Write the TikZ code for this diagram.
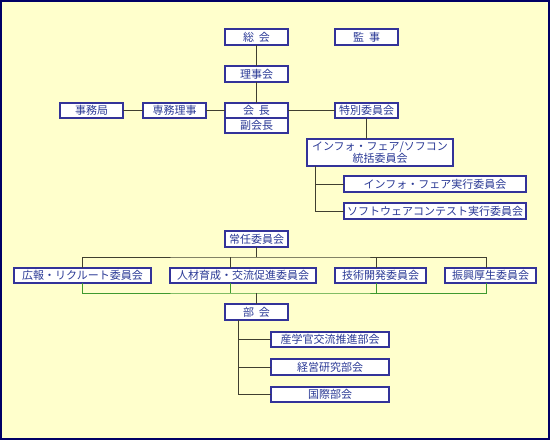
\documentclass[tikz,border=0pt]{standalone}
\usepackage{fontspec}
\setmainfont{Noto Sans CJK JP}
\usetikzlibrary{positioning}
\definecolor{paper}{HTML}{FFFFCC}
\definecolor{framecol}{HTML}{000066}
\definecolor{boxline}{HTML}{333399}
\definecolor{boxtext}{HTML}{2B3A96}
\definecolor{wire}{HTML}{403F30}
\definecolor{greenwire}{HTML}{3F9A2E}
\newcommand{\gap}{\hspace{5bp}}

\begin{document}
\begin{tikzpicture}[x=1bp, y=-1bp,
    orgbox/.style    = {draw=boxline, line width=1.5bp, fill=white, text=boxtext,
                        font=\fontsize{11bp}{12bp}\selectfont, inner sep=0pt, outer sep=0pt,
                        minimum width=63bp, minimum height=16bp, align=center},
    link/.style      = {draw=wire, line width=0.8bp},
    greenlink/.style = {draw=greenwire, line width=0.8bp},
  ]
  \useasboundingbox (0,0) rectangle (550,440);
  \draw[draw=framecol, line width=2bp, fill=paper] (1,1) rectangle (549,439);

  \node[orgbox] (sokai) at (256.5,37) {総\gap 会};
  \node[orgbox] (kansa) at (366.5,37) {監\gap 事};
  \node[orgbox] (rijikai) at (256.5,74) {理事会};
  \node[orgbox, minimum height=15bp] (kaicho) at (256.5,110.5) {会\gap 長};
  \node[orgbox, minimum height=15bp, below=0pt of kaicho] (fukukaicho) {副会長};
  \node[orgbox, minimum height=15bp] (senmu) at (174.5,110.5) {専務理事};
  \node[orgbox, minimum height=15bp] (jimukyoku) at (91.5,110.5) {事務局};
  \node[orgbox, minimum height=15bp] (tokubetsu) at (366.5,110.5) {特別委員会};
  \node[orgbox, minimum width=146bp, minimum height=27bp] (toukatsu) at (380,152.5)
       {インフォ・フェア/ソフコン\\統括委員会};
  \node[orgbox, minimum width=182bp] (infofair) at (435,184) {インフォ・フェア実行委員会};
  \node[orgbox, minimum width=182bp] (softcon) at (435,211) {ソフトウェアコンテスト実行委員会};

  \node[orgbox] (jonin) at (256.5,239) {常任委員会};
  \node[orgbox, minimum width=137bp, minimum height=15bp] (koho) at (82.5,275.5) {広報・リクルート委員会};
  \node[orgbox, minimum width=146bp, minimum height=15bp] (jinzai) at (243,275.5) {人材育成・交流促進委員会};
  \node[orgbox, minimum width=91bp, minimum height=15bp] (gijutsu) at (380.5,275.5) {技術開発委員会};
  \node[orgbox, minimum width=91bp, minimum height=15bp] (shinko) at (490.5,275.5) {振興厚生委員会};
  \node[orgbox] (bukai) at (256.5,312) {部\gap 会};
  \node[orgbox, minimum width=118bp, minimum height=15bp] (sangaku) at (330,339.5) {産学官交流推進部会};
  \node[orgbox, minimum width=118bp] (keiei) at (330,367) {経営研究部会};
  \node[orgbox, minimum width=118bp, minimum height=15bp] (kokusai) at (330,394.5) {国際部会};

  \coordinate (topbus) at (256.5,257);
  \coordinate (botbus) at (256.5,293);

  \draw[link] (sokai) -- (rijikai);
  \draw[link] (rijikai) -- (kaicho);
  \draw[link] (jimukyoku) -- (senmu);
  \draw[link] (senmu) -- (kaicho);
  \draw[link] (kaicho) -- (tokubetsu);
  \draw[link] (tokubetsu) -- (tokubetsu |- toukatsu.north);
  \draw[link] ([xshift=-65bp]toukatsu.south) |- (infofair);
  \draw[link] ([xshift=-65bp]toukatsu.south) |- (softcon);

  \draw[link] (jonin) -- (topbus);
  \draw[link] (koho.north) |- (topbus) -| ([xshift=-4.5bp]shinko.north);
  \draw[link] ([xshift=-13bp]jinzai.north) -- ++(0,-11);
  \draw[link] ([xshift=-4.5bp]gijutsu.north) -- ++(0,-11);
  \draw[greenlink] (koho.south) |- (botbus) -| ([xshift=-4.5bp]shinko.south);
  \draw[greenlink] ([xshift=-13bp]jinzai.south) -- ++(0,10);
  \draw[greenlink] ([xshift=-4.5bp]gijutsu.south) -- ++(0,10);
  \draw[link] (botbus) -- (bukai);
  \draw[link] ([xshift=-18.5bp]bukai.south) |- (sangaku);
  \draw[link] ([xshift=-18.5bp]bukai.south) |- (keiei);
  \draw[link] ([xshift=-18.5bp]bukai.south) |- (kokusai);
\end{tikzpicture}
\end{document}
